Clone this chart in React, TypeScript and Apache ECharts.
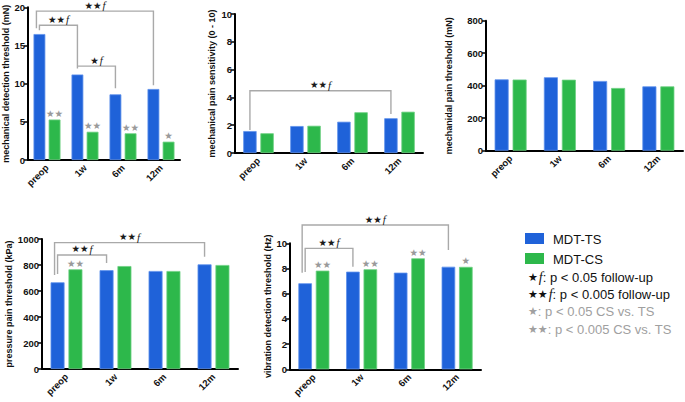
import React, { useEffect, useRef } from "react";
import * as echarts from "echarts";

const categories = ["preop", "1w", "6m", "12m"];

const mdtTSDetection = [16.5, 11.2, 8.6, 9.3];
const mdtCSDetection = [5.3, 3.7, 3.5, 2.4];
const mdtTSPainSensitivity = [1.58, 1.94, 2.25, 2.5];
const mdtCSPainSensitivity = [1.42, 1.96, 2.93, 2.97];
const mdtTSPainThreshold = [439, 452, 429, 396];
const mdtCSPainThreshold = [438, 437, 386, 396];
const mdtTSPressure = [667, 760, 754, 805];
const mdtCSPressure = [767, 792, 754, 800];
const mdtTSVibration = [6.83, 7.75, 7.67, 8.14];
const mdtCSVibration = [7.83, 7.94, 8.81, 8.13];

// CS vs TS significance marks (gray stars above MDT-CS bars)
const csSigDetection = ["★★", "★★", "★★", "★"];
const csSigPainSensitivity = ["", "", "", ""];
const csSigPainThreshold = ["", "", "", ""];
const csSigPressure = ["★★", "", "", ""];
const csSigVibration = ["★★", "★★", "★★", "★"];

// follow-up brackets: from/to category, top value, leg bottoms, label stars
type Bracket = { from: number; to: number; top: number; fromBottom: number; toBottom: number; stars: string; nest: number };
const bracketsDetection: Bracket[] = [
  { from: 0, to: 1, top: 17.65, fromBottom: 17.0, toBottom: 12.0, stars: "★★", nest: 0 },
  { from: 0, to: 3, top: 19.5, fromBottom: 17.25, toBottom: 9.8, stars: "★★", nest: 1 },
  { from: 1, to: 2, top: 12.3, fromBottom: 12.3, toBottom: 9.4, stars: "★", nest: 0 },
];
const bracketsPainSensitivity: Bracket[] = [
  { from: 0, to: 3, top: 4.48, fromBottom: 1.65, toBottom: 2.8, stars: "★★", nest: 0 },
];
const bracketsPainThreshold: Bracket[] = [];
const bracketsPressure: Bracket[] = [
  { from: 0, to: 1, top: 877, fromBottom: 731, toBottom: 815, stars: "★★", nest: 0 },
  { from: 0, to: 3, top: 972, fromBottom: 723, toBottom: 864, stars: "★★", nest: 1 },
];
const bracketsVibration: Bracket[] = [
  { from: 0, to: 1, top: 9.6, fromBottom: 7.72, toBottom: 8.14, stars: "★★", nest: 0 },
  { from: 0, to: 3, top: 11.45, fromBottom: 7.67, toBottom: 9.47, stars: "★★", nest: 1 },
];

const yNames = [
  "mechanical detection threshold (mN)",
  "mechanical pain sensitivity (0 - 10)",
  "mechanidal pain threshold (mN)",
  "pressure pain threshold (kPa)",
  "vibration detection threshold (Hz)",
];
const yMax = [20, 10, 800, 1000, 10];
const yInterval = [5, 2, 200, 200, 2];

const seriesNames = ["MDT-TS", "MDT-CS"];
const legendNotes = [
  { stars: "★", text: ": p < 0.05 follow-up", gray: false, f: true },
  { stars: "★★", text: ": p < 0.005 follow-up", gray: false, f: true },
  { stars: "★", text: ": p < 0.05 CS vs. TS", gray: true, f: false },
  { stars: "★★", text: ": p < 0.005 CS vs. TS", gray: true, f: false },
];

const panels = [
  { ts: mdtTSDetection, cs: mdtCSDetection, sig: csSigDetection, brackets: bracketsDetection },
  { ts: mdtTSPainSensitivity, cs: mdtCSPainSensitivity, sig: csSigPainSensitivity, brackets: bracketsPainSensitivity },
  { ts: mdtTSPainThreshold, cs: mdtCSPainThreshold, sig: csSigPainThreshold, brackets: bracketsPainThreshold },
  { ts: mdtTSPressure, cs: mdtCSPressure, sig: csSigPressure, brackets: bracketsPressure },
  { ts: mdtTSVibration, cs: mdtCSVibration, sig: csSigVibration, brackets: bracketsVibration },
];

// layout
const grids = [
  { left: 28, top: 7.3, width: 152, height: 152.7 },
  { left: 235, top: 14, width: 188, height: 139 },
  { left: 486, top: 20.7, width: 197, height: 130 },
  { left: 42, top: 239, width: 196, height: 130 },
  { left: 290, top: 243.3, width: 191, height: 126 },
];
const nameGaps = [13, 19, 33, 25, 12];
const catGaps = [0.29, 0.35, 0.35, 0.35, 0.35];
const BAR_GAP = 0.28;

const BLUE = "#1f62d9";
const GREEN = "#2db84b";
const FONT = "Liberation Sans";
const STAR_FONT = "DejaVu Sans";

function buildOption() {
  const series: any[] = [];
  panels.forEach((p, i) => {
    series.push({
      name: seriesNames[0],
      type: "bar",
      xAxisIndex: i,
      yAxisIndex: i,
      data: p.ts,
      barGap: BAR_GAP * 100 + "%",
      barCategoryGap: catGaps[i] * 100 + "%",
      itemStyle: { color: BLUE, borderColor: "#5f92ec", borderWidth: 0.8 },
    });
    series.push({
      name: seriesNames[1],
      type: "bar",
      xAxisIndex: i,
      yAxisIndex: i,
      data: p.cs,
      barGap: BAR_GAP * 100 + "%",
      barCategoryGap: catGaps[i] * 100 + "%",
      itemStyle: { color: GREEN, borderColor: "#6fd083", borderWidth: 0.8 },
      label: {
        show: true,
        position: "top",
        distance: 1,
        formatter: (params: any) => p.sig[params.dataIndex],
        color: "#9a9a9a",
        fontSize: 9.5,
        fontFamily: STAR_FONT,
      },
    });
    if (p.brackets.length) {
      const cg = catGaps[i];
      const bwFrac = (1 - cg) / (2 + BAR_GAP);
      const blueFrac = ((1 + BAR_GAP) * bwFrac) / 2;
      series.push({
        type: "custom",
        xAxisIndex: i,
        yAxisIndex: i,
        silent: true,
        clip: false,
        z: 5,
        data: p.brackets.map((b) => [b.from, b.to, b.top, b.fromBottom, b.toBottom, b.nest]),
        renderItem: (params: any, api: any) => {
          const from = api.value(0);
          const to = api.value(1);
          const top = api.value(2);
          const fb = api.value(3);
          const tb = api.value(4);
          const nest = api.value(5);
          const band = api.size([1, 0])[0];
          const off = band * blueFrac;
          const pFB = api.coord([from, fb]);
          const pT = api.coord([from, top]);
          const pTB = api.coord([to, tb]);
          const x1 = pFB[0] - off - nest * 3;
          const x2 = pTB[0] - off;
          const yt = pT[1];
          const b = p.brackets[params.dataIndex];
          return {
            type: "group",
            children: [
              {
                type: "polyline",
                shape: { points: [[x1, pFB[1]], [x1, yt], [x2, yt], [x2, pTB[1]]] },
                style: { stroke: "#a9a9a9", lineWidth: 1.4, fill: null },
              },
              {
                type: "text",
                x: (x1 + x2) / 2,
                y: yt - 6,
                style: {
                  text: "{s|" + b.stars + "}{f|f}",
                  align: "center",
                  verticalAlign: "middle",
                  rich: {
                    s: { fontSize: 9.5, fontFamily: STAR_FONT, fill: "#1a1a1a", lineHeight: 10 },
                    f: { fontSize: 11, fontFamily: "Liberation Serif", fontStyle: "italic", fill: "#1a1a1a", padding: [0, 0, 0, 1], lineHeight: 10 },
                  },
                },
              },
            ],
          };
        },
      });
    }
  });

  const swatchColors = [BLUE, GREEN];
  const graphic: any[] = [];
  seriesNames.forEach((n, k) => {
    graphic.push({
      type: "rect",
      silent: true,
      shape: { x: 525, y: 233 + k * 20, width: 19, height: 11 },
      style: { fill: swatchColors[k] },
    });
    graphic.push({
      type: "text",
      silent: true,
      x: 553,
      y: 239 + k * 20,
      style: { text: n, fontSize: 13, fontFamily: FONT, fill: "#111", verticalAlign: "middle" },
    });
  });
  legendNotes.forEach((n, k) => {
    graphic.push({
      type: "text",
      silent: true,
      x: 528,
      y: 277 + k * 17.4,
      style: {
        text: "{s|" + n.stars + "}" + (n.f ? "{f|f}" : "") + "{t|" + n.text + "}",
        verticalAlign: "middle",
        rich: {
          s: { fontSize: 11, fontFamily: STAR_FONT, fill: n.gray ? "#a0a0a0" : "#111" },
          f: { fontSize: 14, fontFamily: "Liberation Serif", fontStyle: "italic", fill: "#111", padding: [0, 0, 0, 1] },
          t: { fontSize: 13, fontFamily: FONT, fill: n.gray ? "#a0a0a0" : "#111" },
        },
      },
    });
  });

  return {
    animation: false,
    backgroundColor: "#fff",
    textStyle: { fontFamily: FONT },
    grid: grids.map((g) => ({ ...g, containLabel: false })),
    xAxis: grids.map((_, i) => ({
      type: "category",
      gridIndex: i,
      data: categories,
      axisLine: { lineStyle: { color: "#000", width: 2 } },
      axisTick: { alignWithLabel: true, length: 4, lineStyle: { color: "#000", width: 1.5 } },
      axisLabel: { rotate: 45, fontSize: 9.5, fontWeight: "bold", color: "#111", margin: 6, fontFamily: FONT },
      splitLine: { show: false },
    })),
    yAxis: grids.map((_, i) => ({
      type: "value",
      gridIndex: i,
      min: 0,
      max: yMax[i],
      interval: yInterval[i],
      name: yNames[i],
      nameLocation: "middle",
      nameGap: nameGaps[i],
      nameTextStyle: { fontSize: 9, fontWeight: "bold", color: "#111", fontFamily: FONT },
      axisLine: { show: true, lineStyle: { color: "#000", width: 2 } },
      axisTick: { show: true, length: 4, lineStyle: { color: "#000", width: 1.5 } },
      axisLabel: {
        fontSize: 9.5,
        fontWeight: "bold",
        color: "#111",
        margin: 3,
        fontFamily: FONT,
        formatter: (v: number) => String(v),
      },
      splitLine: { show: false },
    })),
    series,
    graphic,
  };
}

export default function App() {
  const ref = useRef<HTMLDivElement>(null);
  useEffect(() => {
    const chart = echarts.init(ref.current!, null, { renderer: "svg" });
    chart.setOption(buildOption() as any);
    return () => chart.dispose();
  }, []);
  return (
    <div
      ref={ref}
      style={{ position: "absolute", left: 0, top: 0, width: 685, height: 402, background: "#fff" }}
    />
  );
}
